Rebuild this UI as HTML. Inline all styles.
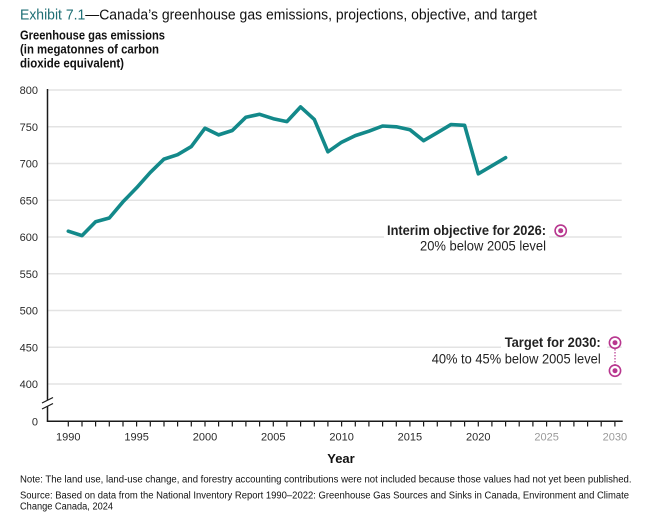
<!DOCTYPE html>
<html><head><meta charset="utf-8"><style>
html,body{margin:0;padding:0;background:#fff;}
svg{display:block;}
text{font-family:"Liberation Sans Narrow","Liberation Sans",sans-serif;}
</style></head><body>
<svg width="654" height="516" viewBox="0 0 654 516" xmlns="http://www.w3.org/2000/svg">
<rect width="654" height="516" fill="#fff"/>
<!-- title -->
<text x="20" y="19.5" font-size="15" textLength="517" lengthAdjust="spacingAndGlyphs"><tspan fill="#1d6e74">Exhibit 7.1</tspan><tspan fill="#111">—Canada’s greenhouse gas emissions, projections, objective, and target</tspan></text>
<!-- y title -->
<g font-weight="bold" font-size="12.5" fill="#111">
<text x="20" y="39.5" textLength="145" lengthAdjust="spacingAndGlyphs">Greenhouse gas emissions</text>
<text x="20" y="53.5" textLength="139" lengthAdjust="spacingAndGlyphs">(in megatonnes of carbon</text>
<text x="20" y="67.5" textLength="104" lengthAdjust="spacingAndGlyphs">dioxide equivalent)</text>
</g>
<!-- gridlines -->
<g stroke="#e3e3e3" stroke-width="1.5">
<line x1="48" x2="621.7" y1="90" y2="90"/>
<line x1="48" x2="621.7" y1="126.8" y2="126.8"/>
<line x1="48" x2="621.7" y1="163.5" y2="163.5"/>
<line x1="48" x2="621.7" y1="200.3" y2="200.3"/>
<line x1="48" x2="621.7" y1="237" y2="237"/>
<line x1="48" x2="621.7" y1="273.8" y2="273.8"/>
<line x1="48" x2="621.7" y1="310.5" y2="310.5"/>
<line x1="48" x2="621.7" y1="347.3" y2="347.3"/>
<line x1="48" x2="621.7" y1="384" y2="384"/>
</g>
<!-- y labels -->
<g font-size="11" fill="#2a2a2a" text-anchor="end">
<text x="38" y="94">800</text>
<text x="38" y="130.8">750</text>
<text x="38" y="167.5">700</text>
<text x="38" y="204.3">650</text>
<text x="38" y="241">600</text>
<text x="38" y="277.8">550</text>
<text x="38" y="314.5">500</text>
<text x="38" y="351.3">450</text>
<text x="38" y="388">400</text>
<text x="38" y="425.3">0</text>
</g>
<!-- axes -->
<g stroke="#1a1a1a" stroke-width="1.5" fill="none">
<line x1="47.5" y1="89" x2="47.5" y2="400"/>
<line x1="47.5" y1="406" x2="47.5" y2="421.5"/>
<line x1="46.8" y1="421.3" x2="622.7" y2="421.3"/>
<line x1="42" y1="403" x2="53" y2="397.5" stroke-width="1.2"/>
<line x1="42" y1="409" x2="53" y2="403.5" stroke-width="1.2"/>
</g>
<!-- ticks -->
<g stroke="#1a1a1a" stroke-width="1.2">
<line x1="68.3" x2="68.3" y1="421" y2="426.5"/><line x1="82.0" x2="82.0" y1="421" y2="426.5"/><line x1="95.6" x2="95.6" y1="421" y2="426.5"/><line x1="109.3" x2="109.3" y1="421" y2="426.5"/><line x1="123.0" x2="123.0" y1="421" y2="426.5"/><line x1="136.6" x2="136.6" y1="421" y2="426.5"/><line x1="150.3" x2="150.3" y1="421" y2="426.5"/><line x1="164.0" x2="164.0" y1="421" y2="426.5"/><line x1="177.6" x2="177.6" y1="421" y2="426.5"/><line x1="191.3" x2="191.3" y1="421" y2="426.5"/><line x1="205.0" x2="205.0" y1="421" y2="426.5"/><line x1="218.6" x2="218.6" y1="421" y2="426.5"/><line x1="232.3" x2="232.3" y1="421" y2="426.5"/><line x1="245.9" x2="245.9" y1="421" y2="426.5"/><line x1="259.6" x2="259.6" y1="421" y2="426.5"/><line x1="273.3" x2="273.3" y1="421" y2="426.5"/><line x1="286.9" x2="286.9" y1="421" y2="426.5"/><line x1="300.6" x2="300.6" y1="421" y2="426.5"/><line x1="314.3" x2="314.3" y1="421" y2="426.5"/><line x1="327.9" x2="327.9" y1="421" y2="426.5"/><line x1="341.6" x2="341.6" y1="421" y2="426.5"/><line x1="355.3" x2="355.3" y1="421" y2="426.5"/><line x1="368.9" x2="368.9" y1="421" y2="426.5"/><line x1="382.6" x2="382.6" y1="421" y2="426.5"/><line x1="396.3" x2="396.3" y1="421" y2="426.5"/><line x1="409.9" x2="409.9" y1="421" y2="426.5"/><line x1="423.6" x2="423.6" y1="421" y2="426.5"/><line x1="437.3" x2="437.3" y1="421" y2="426.5"/><line x1="450.9" x2="450.9" y1="421" y2="426.5"/><line x1="464.6" x2="464.6" y1="421" y2="426.5"/><line x1="478.3" x2="478.3" y1="421" y2="426.5"/><line x1="491.9" x2="491.9" y1="421" y2="426.5"/><line x1="505.6" x2="505.6" y1="421" y2="426.5"/><line x1="519.2" x2="519.2" y1="421" y2="426.5"/><line x1="532.9" x2="532.9" y1="421" y2="426.5"/><line x1="546.6" x2="546.6" y1="421" y2="426.5"/><line x1="560.2" x2="560.2" y1="421" y2="426.5"/><line x1="573.9" x2="573.9" y1="421" y2="426.5"/><line x1="587.6" x2="587.6" y1="421" y2="426.5"/><line x1="601.2" x2="601.2" y1="421" y2="426.5"/><line x1="614.9" x2="614.9" y1="421" y2="426.5"/>
</g>
<!-- x labels -->
<g font-size="11" text-anchor="middle">
<text x="68.3" y="440.5" fill="#2a2a2a">1990</text>
<text x="136.6" y="440.5" fill="#2a2a2a">1995</text>
<text x="205.0" y="440.5" fill="#2a2a2a">2000</text>
<text x="273.3" y="440.5" fill="#2a2a2a">2005</text>
<text x="341.6" y="440.5" fill="#2a2a2a">2010</text>
<text x="409.9" y="440.5" fill="#2a2a2a">2015</text>
<text x="478.3" y="440.5" fill="#2a2a2a">2020</text>
<text x="546.6" y="440.5" fill="#9a9a9a">2025</text>
<text x="614.9" y="440.5" fill="#9a9a9a">2030</text>
</g>
<text x="341" y="463" font-size="13" font-weight="bold" text-anchor="middle" fill="#111">Year</text>
<!-- data line -->
<polyline fill="none" stroke="#13898a" stroke-width="3.6" stroke-linejoin="round" stroke-linecap="round"
points="68.3,231.2 82.0,235.6 95.6,221.7 109.3,218.0 123.0,201.8 136.6,187.8 150.3,172.4 164.0,159.1 177.6,154.7 191.3,146.6 205.0,128.2 218.6,134.9 232.3,130.5 245.9,117.2 259.6,114.3 273.3,118.7 286.9,121.6 300.6,106.9 314.3,119.4 327.9,151.8 341.6,142.2 355.3,135.6 368.9,131.2 382.6,126.0 396.3,126.8 409.9,129.7 423.6,140.7 437.3,132.7 450.9,124.6 464.6,125.3 478.3,173.8 491.9,165.8 505.6,157.7"/>
<!-- annotations -->
<rect x="384" y="222" width="165" height="32" fill="#fff"/>
<rect x="501" y="334" width="106" height="18" fill="#fff"/>
<g fill="#222" text-anchor="end">
<text x="546" y="235" font-size="14" font-weight="bold" textLength="159" lengthAdjust="spacingAndGlyphs">Interim objective for 2026:</text>
<text x="546" y="250.5" font-size="14" textLength="126" lengthAdjust="spacingAndGlyphs">20% below 2005 level</text>
<text x="600.7" y="347" font-size="14" font-weight="bold" textLength="96" lengthAdjust="spacingAndGlyphs">Target for 2030:</text>
<text x="600.7" y="363.5" font-size="14" textLength="169" lengthAdjust="spacingAndGlyphs">40% to 45% below 2005 level</text>
</g>
<g stroke="#b8378f" fill="#fff">
<line x1="615" y1="349" x2="615" y2="364.5" stroke-width="1.2" stroke-dasharray="1.5,1.5"/>
<circle cx="560.7" cy="230.7" r="5.6" stroke-width="1.6"/>
<circle cx="615" cy="342.7" r="5.6" stroke-width="1.6"/>
<circle cx="615" cy="370.7" r="5.6" stroke-width="1.6"/>
</g>
<g fill="#b8378f">
<circle cx="560.7" cy="230.7" r="2.5"/>
<circle cx="615" cy="342.7" r="2.5"/>
<circle cx="615" cy="370.7" r="2.5"/>
</g>
<!-- notes -->
<g font-size="10" fill="#111">
<text x="20" y="482.7" textLength="611.5" lengthAdjust="spacingAndGlyphs">Note: The land use, land-use change, and forestry accounting contributions were not included because those values had not yet been published.</text>
<text x="20" y="498.3" textLength="609" lengthAdjust="spacingAndGlyphs">Source: Based on data from the National Inventory Report 1990–2022: Greenhouse Gas Sources and Sinks in Canada, Environment and Climate</text>
<text x="20" y="509.5" textLength="93" lengthAdjust="spacingAndGlyphs">Change Canada, 2024</text>
</g>
</svg>
</body></html>
